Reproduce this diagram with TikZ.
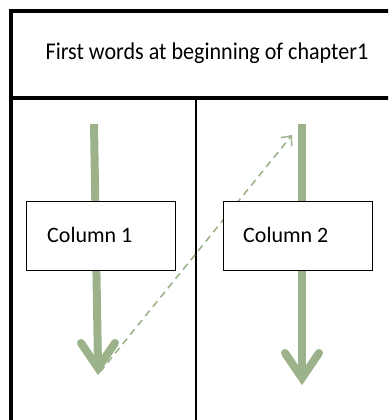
\documentclass[tikz,border=0pt]{standalone}
\usepackage{fontspec}
\setmainfont{Carlito}
\newfontfamily\headfont[FakeStretch=0.92]{Carlito}
\usetikzlibrary{arrows.meta}
\definecolor{sage}{HTML}{9BB28B}
\tikzset{
  frame/.style={line width=4pt, black},
  divider/.style={line width=1.1pt, black},
  flow/.style={sage, line width=8pt},
  chevron/.style={sage, line width=8pt, line cap=round, line join=miter},
  jump/.style={sage, line width=1.6pt, dash pattern=on 7pt off 5pt, -{Straight Barb[length=8pt,width=14pt,line width=1.4pt]}},
  colbox/.style={draw=black, line width=0.9pt, fill=white, minimum width=149pt, minimum height=69pt, inner sep=0pt},
  coltext/.style={font=\fontsize{22}{26}\selectfont, anchor=west, inner sep=0pt}
}
\begin{document}
\begin{tikzpicture}[x=1pt,y=-1pt]
\useasboundingbox (0,0) rectangle (388,420);
\begin{scope}
\clip (0,0) rectangle (388,420);
% frame
\draw[frame] (10.5,420) -- (10.5,11.5) -- (400,11.5);
\draw[frame] (10.5,97.5) -- (400,97.5);
\draw[divider] (196,97) -- (196,420);
% header text
\node[font=\headfont\fontsize{24}{28}\selectfont, inner sep=0pt] (head) at (207,53) {First words at beginning of chapter1};
% arrow coordinates
\coordinate (s1) at (94,124);
\coordinate (e1) at (98,366);
\coordinate (t1) at (98,368);
\coordinate (l1) at (81,343);
\coordinate (r1) at (115,343);
\coordinate (s2) at (302,124);
\coordinate (e2) at (302,376);
\coordinate (t2) at (302,378);
\coordinate (l2) at (285,353);
\coordinate (r2) at (319,353);
\coordinate (js) at (100,372);
\coordinate (je) at (292,135);
% arrows
\draw[flow] (s1) -- (e1);
\draw[chevron] (l1) -- (t1) -- (r1);
\draw[flow] (s2) -- (e2);
\draw[chevron] (l2) -- (t2) -- (r2);
\draw[jump] (js) -- (je);
% boxes
\node[colbox] (c1) at (100.5,235.5) {};
\node[colbox] (c2) at (298,235.5) {};
\node[coltext] (c1t) at (47,235) {Column 1};
\node[coltext] (c2t) at (243,235) {Column 2};
\end{scope}
\end{tikzpicture}
\end{document}
